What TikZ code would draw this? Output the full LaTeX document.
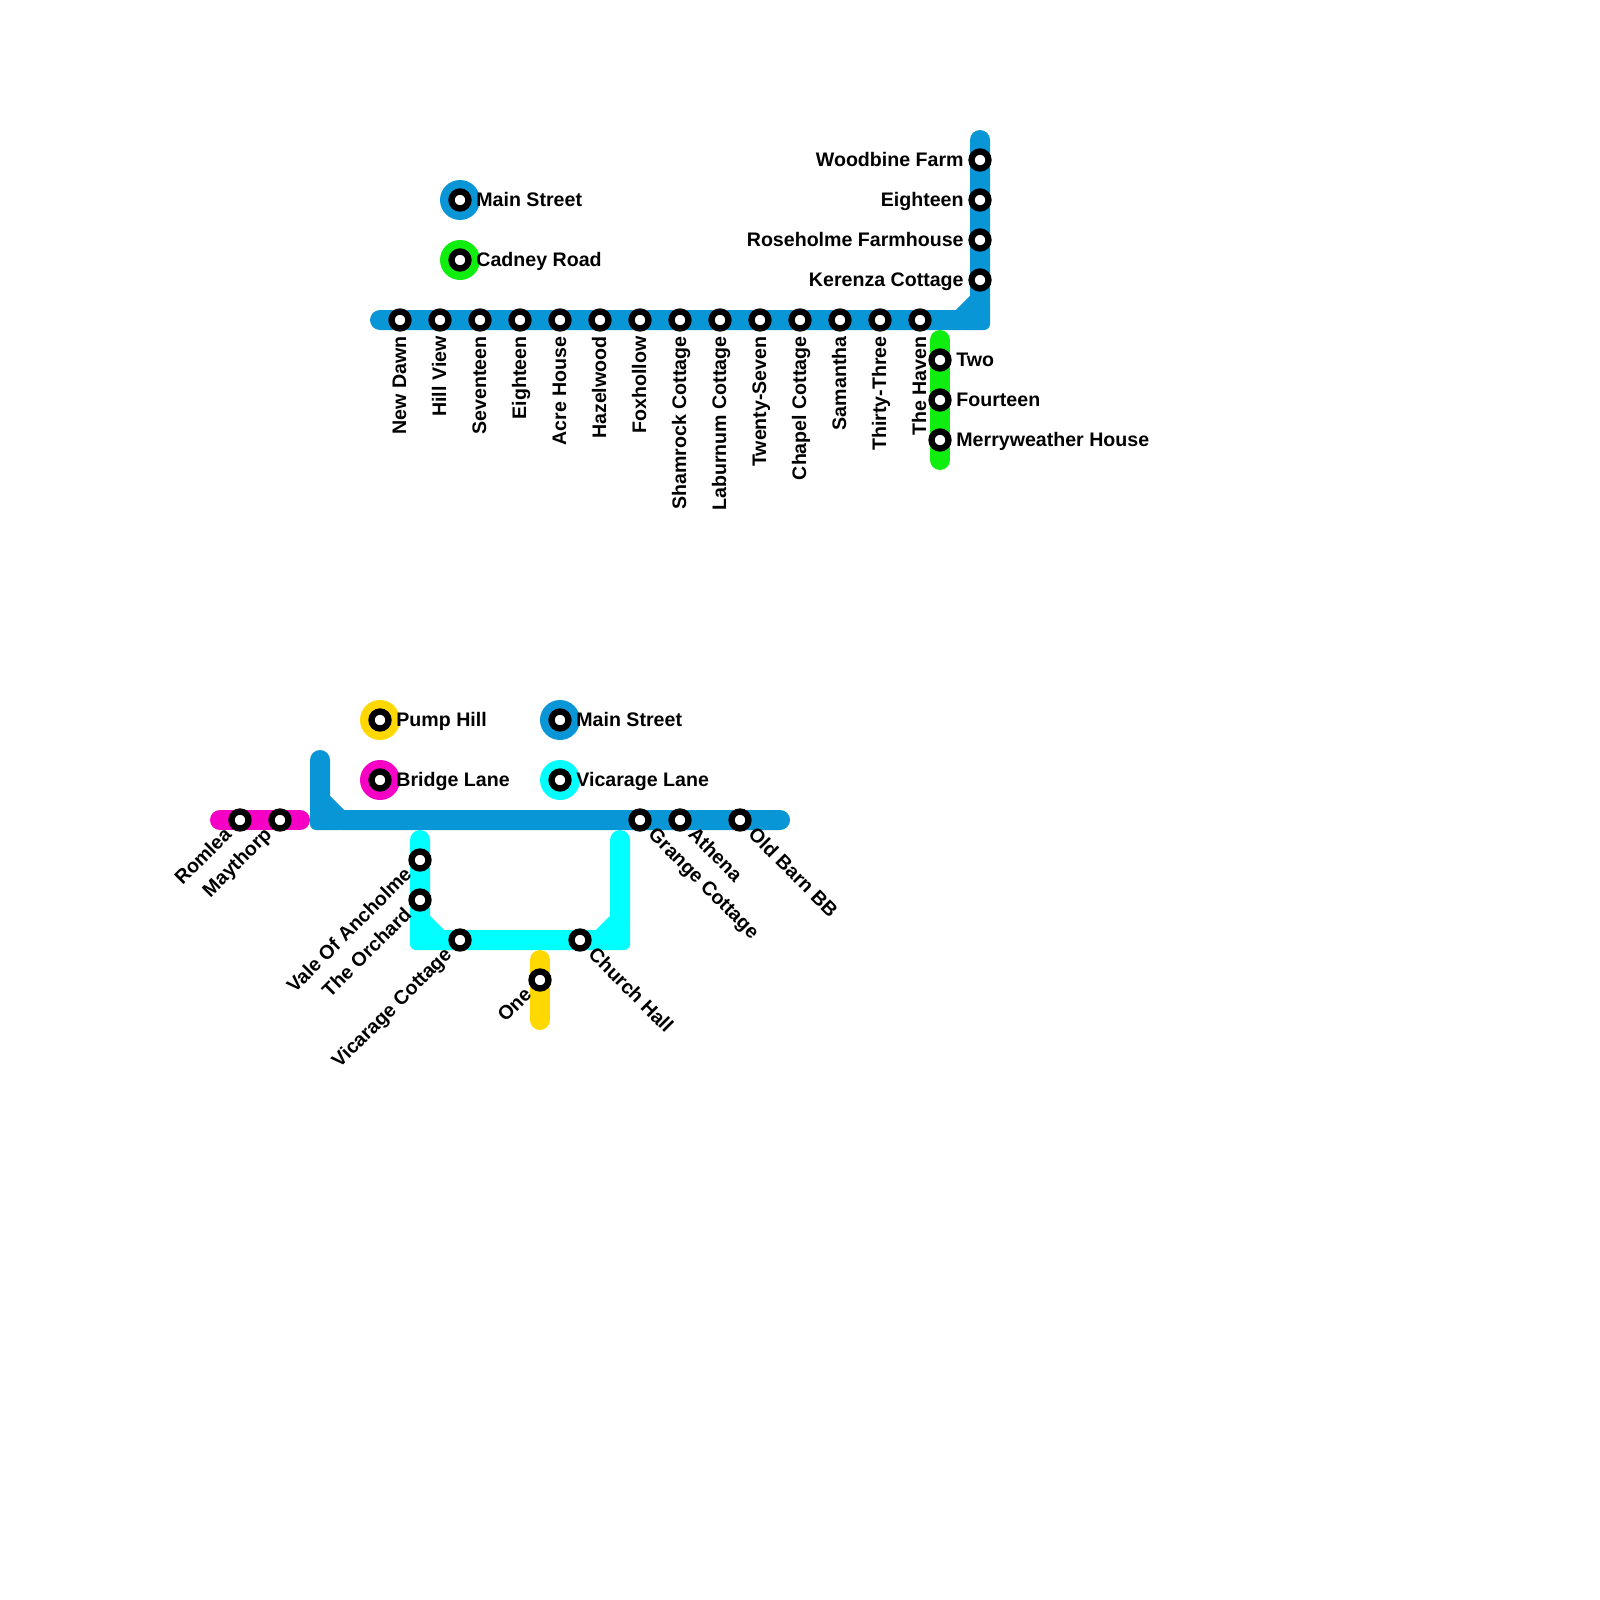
\documentclass[tikz,border=0pt]{standalone}
\usepackage{fontspec}
\setmainfont{Liberation Sans}
\usetikzlibrary{calc}
\definecolor{lblue}{HTML}{0996D6}
\definecolor{lgreen}{HTML}{10EE10}
\definecolor{lcyan}{HTML}{00FFFF}
\definecolor{lmag}{HTML}{F500C4}
\definecolor{lyel}{HTML}{FFD800}
\begin{document}
\begin{tikzpicture}[x=0.5pt,y=-0.5pt,
  ln/.style={line width=10pt, line cap=round, line join=round},
  cornerfill/.style={rounded corners=3pt},
  stn/.style={circle, draw=black, fill=white, line width=3.15pt, minimum size=8.5pt, inner sep=0pt},
  xchg/.style={circle, minimum size=20pt, inner sep=0pt},
  lbl/.style={font=\bfseries\fontsize{9.8}{12}\selectfont, inner sep=0pt, text=black},
  lblE/.style={lbl, anchor=base west},
  lblW/.style={lbl, anchor=base east},
  lblS/.style={lbl, anchor=base east, rotate=90},
  lblSW/.style={lbl, anchor=base east, rotate=45},
  lblSE/.style={lbl, anchor=base west, rotate=-45}]
\useasboundingbox (0,0) rectangle (1600,1600);
\fill[white] (0,0) rectangle (1600,1600);

% ---------- coordinates ----------
% top blue line
\coordinate (ta) at (380,320);
\foreach \i/\x in {1/400,2/440,3/480,4/520,5/560,6/600,7/640,8/680,9/720,10/760,11/800,12/840,13/880,14/920}
  \coordinate (t\i) at (\x,320);
\coordinate (tb) at (960,320);
\coordinate (tc) at (980,300);
\coordinate (td) at (980,140);
\coordinate (v1) at (980,160);
\coordinate (v2) at (980,200);
\coordinate (v3) at (980,240);
\coordinate (v4) at (980,280);
% green line
\coordinate (ga) at (940,340);
\coordinate (g1) at (940,360);
\coordinate (g2) at (940,400);
\coordinate (g3) at (940,440);
\coordinate (gb) at (940,460);
% magenta line
\coordinate (ma) at (220,820);
\coordinate (m1) at (240,820);
\coordinate (m2) at (280,820);
\coordinate (mb) at (300,820);
% lower blue line
\coordinate (ba) at (320,760);
\coordinate (bb) at (320,800);
\coordinate (bc) at (340,820);
\coordinate (b1) at (640,820);
\coordinate (b2) at (680,820);
\coordinate (b3) at (740,820);
\coordinate (bd) at (780,820);
% cyan line
\coordinate (ca) at (420,840);
\coordinate (c1) at (420,860);
\coordinate (c2) at (420,900);
\coordinate (cb) at (420,920);
\coordinate (cc) at (440,940);
\coordinate (c3) at (460,940);
\coordinate (c4) at (580,940);
\coordinate (cd) at (600,940);
\coordinate (ce) at (620,920);
\coordinate (cf) at (620,840);
% yellow line
\coordinate (ya) at (540,960);
\coordinate (y1) at (540,980);
\coordinate (yb) at (540,1020);

% ---------- lines ----------
\draw[ln, lblue] (ta) -- (tb) -- (tc) -- (td);
\fill[lblue, cornerfill] (980,295) -- (990,295) -- (990,330) -- (955,330) -- (955,320) -- cycle;
\draw[ln, lgreen] (ga) -- (gb);
\draw[ln, lmag] (ma) -- (mb);
\draw[ln, lblue] (ba) -- (bb) -- (bc) -- (bd);
\fill[lblue, cornerfill] (320,795) -- (310,795) -- (310,830) -- (345,830) -- (345,820) -- cycle;
\draw[ln, lcyan] (ca) -- (cb) -- (cc) -- (cd) -- (ce) -- (cf);
\fill[lcyan, cornerfill] (420,915) -- (410,915) -- (410,950) -- (445,950) -- (445,940) -- cycle;
\fill[lcyan, cornerfill] (620,915) -- (630,915) -- (630,950) -- (595,950) -- (595,940) -- cycle;
\draw[ln, lyel] (ya) -- (yb);

% ---------- interchange legend ----------
\node[xchg, fill=lblue] (xa) at (460,200) {};
\node[xchg, fill=lgreen] (xb) at (460,260) {};
\node[xchg, fill=lyel] (xc) at (380,720) {};
\node[xchg, fill=lmag] (xd) at (380,780) {};
\node[xchg, fill=lblue] (xe) at (560,720) {};
\node[xchg, fill=lcyan] (xf) at (560,780) {};
\foreach \n in {xa,xb,xc,xd,xe,xf}
  \node[stn] (s\n) at (\n) {};
\node[lblE] (lxa) at ($(xa)+(16,6)$) {Main Street};
\node[lblE] (lxb) at ($(xb)+(16,6)$) {Cadney Road};
\node[lblE] (lxc) at ($(xc)+(16,6)$) {Pump Hill};
\node[lblE] (lxd) at ($(xd)+(16,6)$) {Bridge Lane};
\node[lblE] (lxe) at ($(xe)+(16,6)$) {Main Street};
\node[lblE] (lxf) at ($(xf)+(16,6)$) {Vicarage Lane};

% ---------- stations ----------
\foreach \n in {t1,t2,t3,t4,t5,t6,t7,t8,t9,t10,t11,t12,t13,t14,v1,v2,v3,v4,g1,g2,g3,m1,m2,b1,b2,b3,c1,c2,c3,c4,y1}
  \node[stn] (n\n) at (\n) {};

% top line labels (vertical)
\foreach \n/\t in {t1/New Dawn,t2/Hill View,t3/Seventeen,t4/Eighteen,t5/Acre House,t6/Hazelwood,t7/Foxhollow,t8/Shamrock Cottage,t9/Laburnum Cottage,t10/Twenty-Seven,t11/Chapel Cottage,t12/Samantha,t13/Thirty-Three,t14/The Haven}
  \node[lblS] (l\n) at ($(\n)+(6,16)$) {\t};
% vertical blue branch
\node[lblW] (lv1) at ($(v1)+(-16,6)$) {Woodbine Farm};
\node[lblW] (lv2) at ($(v2)+(-16,6)$) {Eighteen};
\node[lblW] (lv3) at ($(v3)+(-16,6)$) {Roseholme Farmhouse};
\node[lblW] (lv4) at ($(v4)+(-16,6)$) {Kerenza Cottage};
% green
\node[lblE] (lg1) at ($(g1)+(16,6)$) {Two};
\node[lblE] (lg2) at ($(g2)+(16,6)$) {Fourteen};
\node[lblE] (lg3) at ($(g3)+(16,6)$) {Merryweather House};
% lower diagonal labels, down-left
\node[lblSW] (lm1) at ($(m1)+(-7.07,15.56)$) {Romlea};
\node[lblSW] (lm2) at ($(m2)+(-7.07,15.56)$) {Maythorp};
\node[lblSW] (lc1) at ($(c1)+(-7.07,15.56)$) {Vale Of Ancholme};
\node[lblSW] (lc2) at ($(c2)+(-7.07,15.56)$) {The Orchard};
\node[lblSW] (lc3) at ($(c3)+(-7.07,15.56)$) {Vicarage Cottage};
\node[lblSW] (ly1) at ($(y1)+(-7.07,15.56)$) {One};
% lower diagonal labels, down-right
\node[lblSE] (lb1) at ($(b1)+(7.07,15.56)$) {Grange Cottage};
\node[lblSE] (lb2) at ($(b2)+(7.07,15.56)$) {Athena};
\node[lblSE] (lb3) at ($(b3)+(7.07,15.56)$) {Old Barn BB};
\node[lblSE] (lc4) at ($(c4)+(7.07,15.56)$) {Church Hall};
\end{tikzpicture}
\end{document}
